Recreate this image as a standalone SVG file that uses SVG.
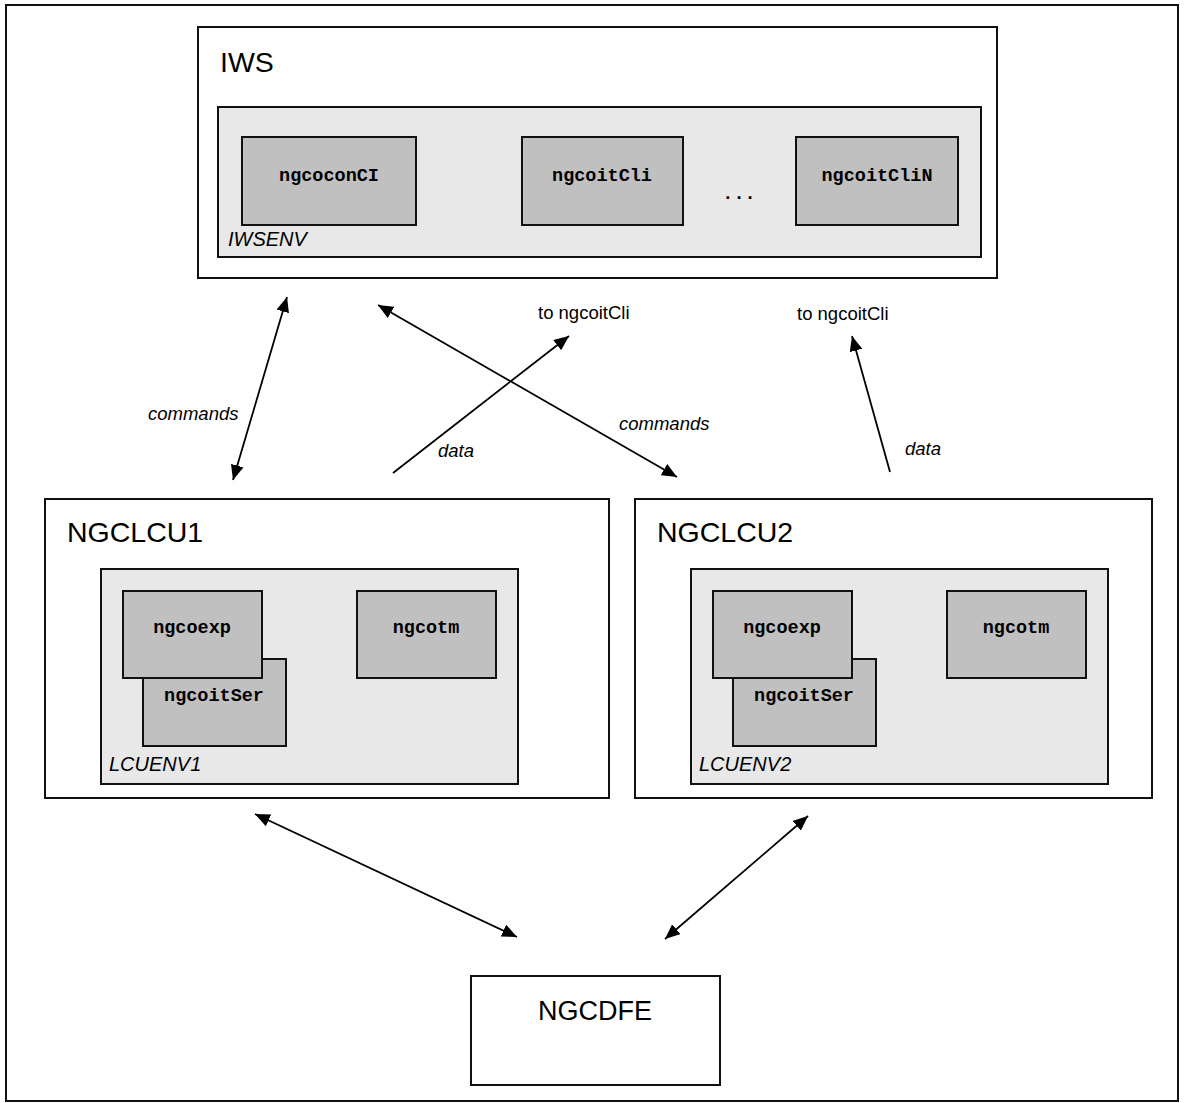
<svg xmlns="http://www.w3.org/2000/svg" width="1185" height="1103" viewBox="0 0 1185 1103">
  <style>
    .frame { fill: #ffffff; stroke: #111111; stroke-width: 2; }
    .host { fill: #ffffff; stroke: #111111; stroke-width: 2; }
    .env { fill: #e8e8e8; stroke: #111111; stroke-width: 2; }
    .proc { fill: #c0c0c0; stroke: #111111; stroke-width: 2; }
    .title { font-family: "Liberation Sans", Arial, sans-serif; font-size: 28.5px; fill: #000000; }
    .envlabel { font-family: "Liberation Sans", Arial, sans-serif; font-size: 20px; font-style: italic; fill: #000000; }
    .proclabel { font-family: "Liberation Mono", "Courier New", monospace; font-size: 18.5px; font-weight: bold; fill: #000000; text-anchor: middle; }
    .label { font-family: "Liberation Sans", Arial, sans-serif; font-size: 18.5px; fill: #000000; }
    .ilabel { font-family: "Liberation Sans", Arial, sans-serif; font-size: 18.5px; font-style: italic; fill: #000000; }
    .link { fill: none; stroke: #000000; stroke-width: 1.8; }
  </style>
  <defs>
    <marker id="head" markerUnits="userSpaceOnUse" markerWidth="16" markerHeight="14" refX="15" refY="6.5" orient="auto-start-reverse">
      <path d="M0,0 L15,6.5 L0,13 z" fill="#000000"/>
    </marker>
  </defs>

  <!-- page frame -->
  <rect class="frame" x="6" y="5" width="1172" height="1096"/>

  <!-- IWS workstation -->
  <g id="iws">
    <rect class="host" x="198" y="27" width="799" height="251"/>
    <text class="title" x="220" y="72">IWS</text>
    <g id="iwsenv">
      <rect class="env" x="218" y="107" width="763" height="150"/>
      <text class="envlabel" x="228" y="246">IWSENV</text>
    </g>
    <g id="ngcoconCI">
      <rect class="proc" x="242" y="137" width="174" height="88"/>
      <text class="proclabel" x="329" y="181">ngcoconCI</text>
    </g>
    <g id="ngcoitCli">
      <rect class="proc" x="522" y="137" width="161" height="88"/>
      <text class="proclabel" x="602" y="181">ngcoitCli</text>
    </g>
    <text class="proclabel" x="739" y="199">...</text>
    <g id="ngcoitCliN">
      <rect class="proc" x="796" y="137" width="162" height="88"/>
      <text class="proclabel" x="877" y="181">ngcoitCliN</text>
    </g>
  </g>

  <!-- LCU 1 -->
  <g id="ngclcu1">
    <rect class="host" x="45" y="499" width="564" height="299"/>
    <text class="title" x="67" y="542">NGCLCU1</text>
    <g id="lcuenv1">
      <rect class="env" x="101" y="569" width="417" height="215"/>
      <text class="envlabel" x="109" y="771">LCUENV1</text>
    </g>
    <g id="ngcoitSer1">
      <rect class="proc" x="143" y="659" width="143" height="87"/>
      <text class="proclabel" x="214" y="701">ngcoitSer</text>
    </g>
    <g id="ngcoexp1">
      <rect class="proc" x="123" y="591" width="139" height="87"/>
      <text class="proclabel" x="192" y="633">ngcoexp</text>
    </g>
    <g id="ngcotm1">
      <rect class="proc" x="357" y="591" width="139" height="87"/>
      <text class="proclabel" x="426" y="633">ngcotm</text>
    </g>
  </g>

  <!-- LCU 2 -->
  <g id="ngclcu2">
    <rect class="host" x="635" y="499" width="517" height="299"/>
    <text class="title" x="657" y="542">NGCLCU2</text>
    <g id="lcuenv2">
      <rect class="env" x="691" y="569" width="417" height="215"/>
      <text class="envlabel" x="699" y="771">LCUENV2</text>
    </g>
    <g id="ngcoitSer2">
      <rect class="proc" x="733" y="659" width="143" height="87"/>
      <text class="proclabel" x="804" y="701">ngcoitSer</text>
    </g>
    <g id="ngcoexp2">
      <rect class="proc" x="713" y="591" width="139" height="87"/>
      <text class="proclabel" x="782" y="633">ngcoexp</text>
    </g>
    <g id="ngcotm2">
      <rect class="proc" x="947" y="591" width="139" height="87"/>
      <text class="proclabel" x="1016" y="633">ngcotm</text>
    </g>
  </g>

  <!-- detector front end -->
  <g id="ngcdfe">
    <rect class="host" x="471" y="976" width="249" height="109"/>
    <text class="title" x="595" y="1020" text-anchor="middle" style="font-size:27px">NGCDFE</text>
  </g>

  <!-- connectors -->
  <g id="connectors">
    <line class="link" x1="233" y1="480" x2="287" y2="297" marker-start="url(#head)" marker-end="url(#head)"/>
    <line class="link" x1="677" y1="477" x2="378" y2="305" marker-start="url(#head)" marker-end="url(#head)"/>
    <line class="link" x1="393" y1="473" x2="569" y2="336" marker-end="url(#head)"/>
    <line class="link" x1="890" y1="472" x2="852" y2="336" marker-end="url(#head)"/>
    <line class="link" x1="255" y1="814" x2="517" y2="937" marker-start="url(#head)" marker-end="url(#head)"/>
    <line class="link" x1="808" y1="816" x2="665" y2="939" marker-start="url(#head)" marker-end="url(#head)"/>
  </g>

  <!-- connector labels -->
  <g id="labels">
    <text class="ilabel" x="148" y="420">commands</text>
    <text class="ilabel" x="619" y="430">commands</text>
    <text class="ilabel" x="438" y="457">data</text>
    <text class="ilabel" x="905" y="455">data</text>
    <text class="label" x="538" y="319">to ngcoitCli</text>
    <text class="label" x="797" y="320">to ngcoitCli</text>
  </g>
</svg>
